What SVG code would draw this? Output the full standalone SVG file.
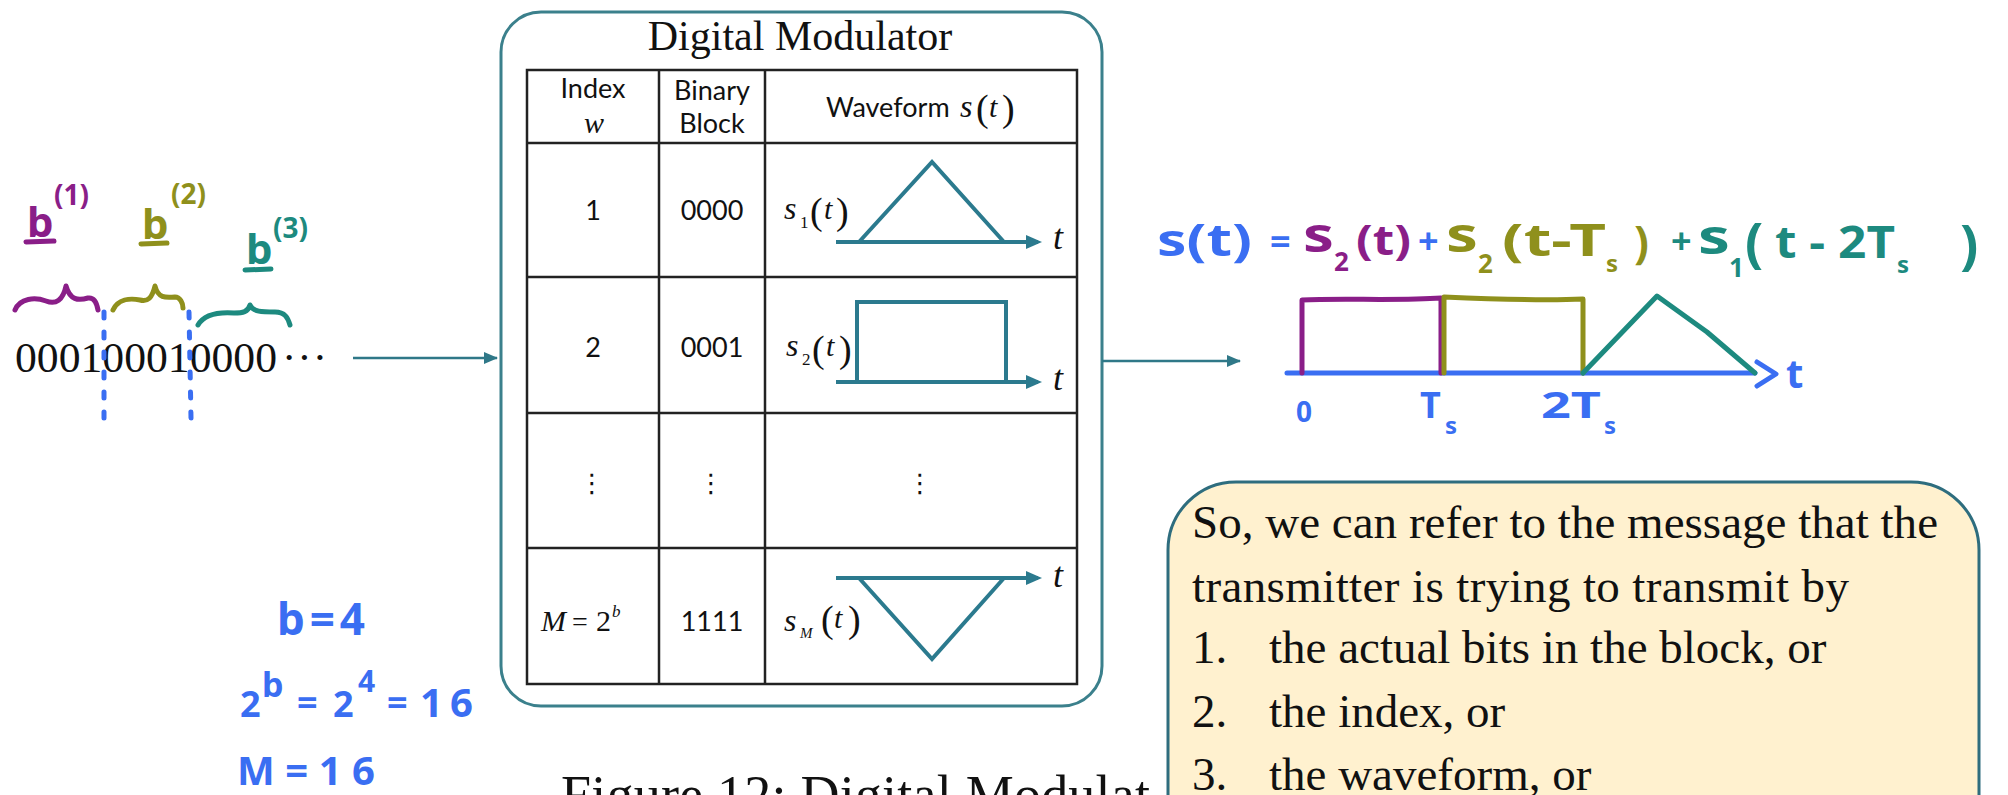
<svg xmlns="http://www.w3.org/2000/svg" width="2008" height="795" viewBox="0 0 2008 795">
<style>
.serif{font-family:"Liberation Serif","Times New Roman",serif;fill:#111}
.sans{font-family:Lato,"Liberation Sans",Arial,sans-serif;fill:#111}
.dots{font-family:"DejaVu Sans",sans-serif;fill:#111}
.it{font-style:italic}
.hw{font-family:"Noto Sans","DejaVu Sans",sans-serif;font-weight:700}
.grid{stroke:#222;stroke-width:2.5;fill:none}
.wave{stroke:#2b7a8e;stroke-width:4;fill:none}
.conn{stroke:#2f7888;stroke-width:2.5;fill:none}
.pen{fill:none;stroke-width:5;stroke-linecap:round;stroke-linejoin:round}
.purple{fill:#8a1e88}.olive{fill:#8f901c}.teal{fill:#1d8a7f}.blue{fill:#3a6ef2}
.spurple{stroke:#8a1e88}.solive{stroke:#8f901c}.steal{stroke:#1d8a7f}.sblue{stroke:#3a6ef2}
</style>
<defs>
<marker id="axisHead" markerUnits="userSpaceOnUse" markerWidth="16" markerHeight="14" viewBox="0 0 16 14" refX="12" refY="7" orient="auto"><path d="M0,0 L16,7 L0,14 z" fill="#2b7a8e"/></marker>
<marker id="connHead" markerUnits="userSpaceOnUse" markerWidth="14" markerHeight="12" viewBox="0 0 14 12" refX="13" refY="6" orient="auto"><path d="M0,0 L14,6 L0,12 z" fill="#2f7888"/></marker>
</defs>
<rect width="2008" height="795" fill="#fff"/>

<g id="bitstream">
<text class="serif" x="15" y="372" font-size="43" textLength="262" lengthAdjust="spacingAndGlyphs">000100010000</text>
<text class="serif" x="282" y="372" font-size="43" letter-spacing="1">···</text>
<path class="pen sblue" d="M104,312 L104,418 M189,312 L191,418" stroke-dasharray="6 14"/>
</g>

<g id="block-labels">
<text class="hw purple" x="27" y="237" font-size="42">b</text>
<path class="pen spurple" d="M26,242 L54,241"/>
<text class="hw purple" x="54" y="205" font-size="28">(1)</text>
<path class="pen spurple" d="M15,310 C20,298 35,297 46,301 C56,305 63,300 66,286 C70,300 78,301 88,298 C95,297 97,304 98,310"/>
<text class="hw olive" x="142" y="239" font-size="42">b</text>
<path class="pen solive" d="M141,244 L167,243"/>
<text class="hw olive" x="171" y="204" font-size="28">(2)</text>
<path class="pen solive" d="M113,310 C118,299 130,298 140,300 C148,302 152,298 155,286 C158,298 165,298 175,297 C180,297 183,303 183,308"/>
<text class="hw teal" x="246" y="264" font-size="42">b</text>
<path class="pen steal" d="M245,270 L271,269"/>
<text class="hw teal" x="273" y="238" font-size="28">(3)</text>
<path class="pen steal" d="M198,325 C205,313 220,312 234,313 C243,313 248,312 250,305 C253,312 262,312 275,312 C285,312 288,318 290,325"/>
</g>

<g id="notes">
<text class="hw blue" x="277" y="635" font-size="44" textLength="88">b=4</text>
<text class="hw blue" x="240" y="717" font-size="36">2</text>
<text class="hw blue" x="262" y="697" font-size="34">b</text>
<text class="hw blue" x="297" y="715" font-size="36">=</text>
<text class="hw blue" x="333" y="717" font-size="36">2</text>
<text class="hw blue" x="358" y="692" font-size="30">4</text>
<text class="hw blue" x="387" y="715" font-size="36">=</text>
<text class="hw blue" x="420" y="717" font-size="40" textLength="53">16</text>
<text class="hw blue" x="237" y="785" font-size="40" textLength="138">M=16</text>
</g>

<g id="modulator">
<rect x="501" y="12" width="601" height="694" rx="40" fill="#fff" stroke="#3b808c" stroke-width="3"/>
<text class="serif" x="800" y="50" font-size="42" text-anchor="middle">Digital Modulator</text>
<rect class="grid" x="527" y="70" width="550" height="614"/>
<path class="grid" d="M527,143 H1077 M527,277 H1077 M527,413 H1077 M527,548 H1077 M659,70 V684 M765,70 V684"/>
<text class="sans" x="593" y="98" font-size="27" text-anchor="middle">Index</text>
<text class="serif it" x="594" y="133" font-size="30" text-anchor="middle">w</text>
<text class="sans" x="712" y="100" font-size="27" text-anchor="middle">Binary</text>
<text class="sans" x="712" y="133" font-size="27" text-anchor="middle">Block</text>
<text class="sans" x="826" y="117" font-size="27">Waveform</text>
<text class="serif it" x="960" y="117" font-size="32">s</text>
<text class="serif" x="976" y="121" font-size="38">(</text>
<text class="serif it" x="989" y="117" font-size="30">t</text>
<text class="serif" x="1002" y="121" font-size="38">)</text>

<text class="sans" x="593" y="220" font-size="27" text-anchor="middle">1</text>
<text class="sans" x="712" y="220" font-size="27" text-anchor="middle">0000</text>
<text class="serif it" x="784" y="219" font-size="32">s</text>
<text class="serif" x="800" y="228" font-size="17">1</text>
<text class="serif" x="810" y="224" font-size="38">(</text>
<text class="serif it" x="824" y="219" font-size="30">t</text>
<text class="serif" x="836" y="224" font-size="38">)</text>
<path class="wave" d="M836,242 H1038" marker-end="url(#axisHead)"/>
<path class="wave" d="M859,242 L932,162 L1004,242"/>
<text class="serif it" x="1053" y="249" font-size="36">t</text>

<text class="sans" x="593" y="357" font-size="27" text-anchor="middle">2</text>
<text class="sans" x="712" y="357" font-size="27" text-anchor="middle">0001</text>
<text class="serif it" x="786" y="356" font-size="32">s</text>
<text class="serif" x="802" y="365" font-size="17">2</text>
<text class="serif" x="812" y="362" font-size="38">(</text>
<text class="serif it" x="826" y="356" font-size="30">t</text>
<text class="serif" x="839" y="362" font-size="38">)</text>
<path class="wave" d="M836,382 H1038" marker-end="url(#axisHead)"/>
<path class="wave" d="M857,382 V302 H1006 V382"/>
<text class="serif it" x="1053" y="390" font-size="36">t</text>

<text class="dots" x="592" y="492" font-size="26" text-anchor="middle">⋮</text>
<text class="dots" x="711" y="492" font-size="26" text-anchor="middle">⋮</text>
<text class="dots" x="920" y="492" font-size="26" text-anchor="middle">⋮</text>

<text class="serif it" x="541" y="631" font-size="30">M</text>
<text class="serif" x="572" y="631" font-size="28">=</text>
<text class="serif" x="596" y="631" font-size="30">2</text>
<text class="serif it" x="612" y="617" font-size="17">b</text>
<text class="sans" x="712" y="631" font-size="27" text-anchor="middle">1111</text>
<text class="serif it" x="784" y="631" font-size="32">s</text>
<text class="serif it" x="800" y="638" font-size="15">M</text>
<text class="serif" x="821" y="632" font-size="38">(</text>
<text class="serif it" x="834" y="628" font-size="30">t</text>
<text class="serif" x="848" y="632" font-size="38">)</text>
<path class="wave" d="M836,578 H1038" marker-end="url(#axisHead)"/>
<path class="wave" d="M859,578 L932,659 L1004,578"/>
<text class="serif it" x="1053" y="587" font-size="36">t</text>
</g>

<g id="caption">
<text class="serif" x="561" y="813" font-size="54" textLength="589">Figure 12: Digital Modulat</text>
</g>

<g id="connectors">
<path class="conn" d="M353,358 H497" marker-end="url(#connHead)"/>
<path class="conn" d="M1102,361 H1240" marker-end="url(#connHead)"/>
</g>

<g id="equation">
<text class="hw blue" x="1157" y="256" font-size="44" textLength="95" lengthAdjust="spacingAndGlyphs">s(t)</text>
<text class="hw blue" x="1270" y="254" font-size="36">=</text>
<text class="hw purple" x="1303" y="252" font-size="48" textLength="31" lengthAdjust="spacingAndGlyphs">s</text>
<text class="hw purple" x="1334" y="271" font-size="26">2</text>
<text class="hw purple" x="1356" y="255" font-size="42" textLength="55" lengthAdjust="spacingAndGlyphs">(t)</text>
<text class="hw blue" x="1418" y="254" font-size="36">+</text>
<text class="hw olive" x="1446" y="252" font-size="48" textLength="32" lengthAdjust="spacingAndGlyphs">s</text>
<text class="hw olive" x="1478" y="273" font-size="26">2</text>
<text class="hw olive" x="1502" y="256" font-size="44" textLength="104" lengthAdjust="spacingAndGlyphs">(t-T</text>
<text class="hw olive" x="1606" y="272" font-size="24">s</text>
<text class="hw olive" x="1634" y="258" font-size="44">)</text>
<text class="hw teal" x="1671" y="254" font-size="36">+</text>
<text class="hw teal" x="1698" y="254" font-size="48" textLength="32" lengthAdjust="spacingAndGlyphs">s</text>
<text class="hw teal" x="1729" y="277" font-size="26">1</text>
<text class="hw teal" x="1745" y="262" font-size="54">(</text>
<text class="hw teal" x="1775" y="258" font-size="44" textLength="120" lengthAdjust="spacingAndGlyphs">t - 2T</text>
<text class="hw teal" x="1897" y="273" font-size="24">s</text>
<text class="hw teal" x="1960" y="264" font-size="54">)</text>
</g>

<g id="sum-waveform">
<path class="pen sblue" d="M1287,373 L1755,373 M1757,362 L1776,374 L1757,386"/>
<text class="hw blue" x="1786" y="388" font-size="40">t</text>
<path class="pen spurple" d="M1302,373 L1302,300 C1340,298 1400,301 1441,298 L1441,373"/>
<path class="pen solive" d="M1444,373 L1444,297 C1490,299 1540,301 1583,299 L1583,373"/>
<path class="pen steal" d="M1583,373 L1657,296 L1707,332 L1755,373"/>
<text class="hw blue" x="1296" y="422" font-size="28">0</text>
<text class="hw blue" x="1420" y="418" font-size="36">T</text>
<text class="hw blue" x="1445" y="434" font-size="24">s</text>
<text class="hw blue" x="1541" y="418" font-size="36" textLength="60" lengthAdjust="spacingAndGlyphs">2T</text>
<text class="hw blue" x="1604" y="434" font-size="24">s</text>
</g>

<g id="callout">
<rect x="1168" y="482" width="811" height="400" rx="68" fill="#fff1cf" stroke="#2e6d7e" stroke-width="3"/>
<text class="serif" x="1192" y="538" font-size="47" textLength="746">So, we can refer to the message that the</text>
<text class="serif" x="1192" y="602" font-size="47" textLength="657">transmitter is trying to transmit by</text>
<text class="serif" x="1192" y="663" font-size="47">1.</text>
<text class="serif" x="1269" y="663" font-size="47">the actual bits in the block, or</text>
<text class="serif" x="1192" y="727" font-size="47">2.</text>
<text class="serif" x="1269" y="727" font-size="47">the index, or</text>
<text class="serif" x="1192" y="790" font-size="47">3.</text>
<text class="serif" x="1269" y="790" font-size="47">the waveform, or</text>
</g>
</svg>
